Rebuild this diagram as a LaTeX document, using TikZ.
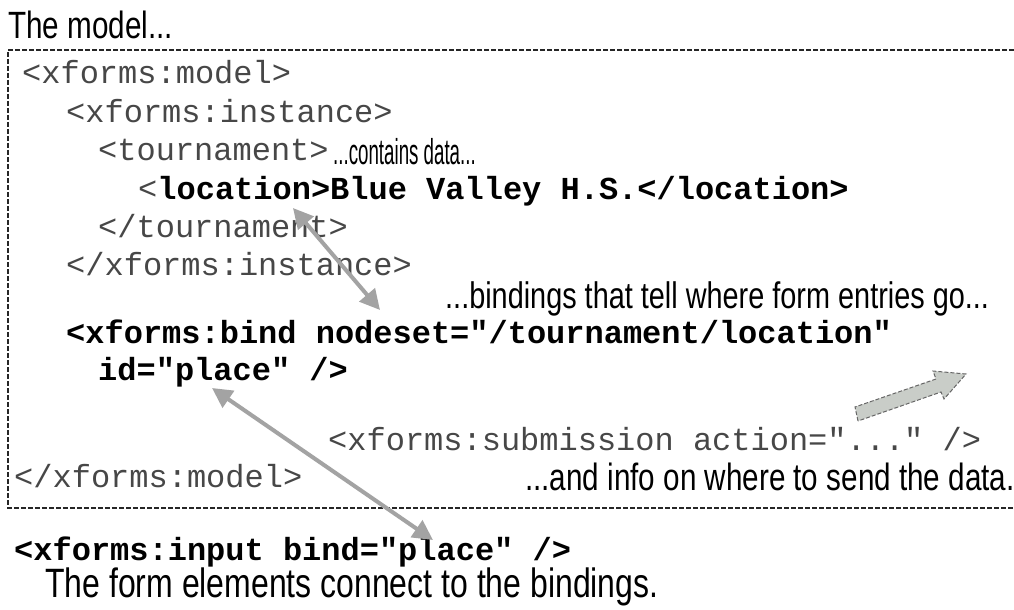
\documentclass[tikz,border=0pt]{standalone}
\usepackage{fontspec}
\setmonofont{Liberation Mono}
\newfontfamily\hand[FakeStretch=0.78]{Liberation Sans}
\newfontfamily\handnarrow[FakeStretch=0.52]{Liberation Sans}
\usetikzlibrary{arrows.meta}
\definecolor{arrowgray}{HTML}{A3A3A3}
\definecolor{blockfill}{HTML}{C9CDC8}
\tikzset{
  code/.style={anchor=base west, inner sep=0pt, font=\ttfamily\fontsize{32}{32}\selectfont, text=black!72},
  boldcode/.style={code, font=\ttfamily\bfseries\fontsize{32}{32}\selectfont, text=black},
  note/.style={anchor=base west, inner sep=0pt, font=\hand\fontsize{38}{38}\selectfont, text=black},
  link/.style={draw=arrowgray, line width=4pt, {Triangle[length=20pt,width=20pt]}-{Triangle[length=20pt,width=20pt]}},
  frame/.style={draw=black!85, line width=1.8pt, dash pattern=on 5pt off 2pt},
  block/.style={draw=black!60, fill=blockfill, line width=1pt, dash pattern=on 4pt off 2pt}
}
\begin{document}
\begin{tikzpicture}[x=1pt,y=-1pt]
\useasboundingbox[fill=white] (0,0) rectangle (1014,610);
% frame
\draw[frame] (1014,50) -- (8,50) -- (8,508) -- (1014,508);
% title
\node[note] (title) at (8,38) {The model...};
% code lines
\node[code] (l1) at (22,84) {<xforms:model>};
\node[code] (l2) at (66,122) {<xforms:instance>};
\node[code] (l3) at (98,160) {<tournament>};
\node[note, font=\handnarrow\fontsize{36}{36}\selectfont] (n1) at (333,164) {...contains data...};
\node[code] (l4) at (138,199) {<\textbf{\textcolor{black}{location>Blue Valley H.S.</location>}}};
\node[code] (l5) at (98,237) {</tournament>};
\node[code] (l6) at (66,275) {</xforms:instance>};
\node[note, font=\hand\fontsize{37}{37}\selectfont] (n2) at (445,308) {...bindings that tell where form entries go...};
\node[boldcode] (l7) at (66,343) {<xforms:bind nodeset="/tournament/location"};
\node[boldcode] (l8) at (98,380) {id="place" />};
\node[code] (l9) at (328,450) {<xforms:submission action="..." />};
\node[code] (l10) at (14,487) {</xforms:model>};
\node[note] (n3) at (525,490) {...and info on where to send the data.};
\node[boldcode] (l11) at (14,560) {<xforms:input bind="place" />};
\node[note, font=\hand\fontsize{41}{41}\selectfont] (n4) at (45,597) {The form elements connect to the bindings.};
% connector endpoints
\coordinate (a1s) at (293,208);
\coordinate (a1e) at (380,310);
\coordinate (a2s) at (212,388);
\coordinate (a2e) at (433,540);
\draw[link] (a1s) -- (a1e);
\draw[link] (a2s) -- (a2e);
% block arrow
\draw[block] (858,421) -- (855,407) -- (936,379) -- (933,371) -- (966,374) -- (944,399) -- (941,392) -- cycle;
\end{tikzpicture}
\end{document}
